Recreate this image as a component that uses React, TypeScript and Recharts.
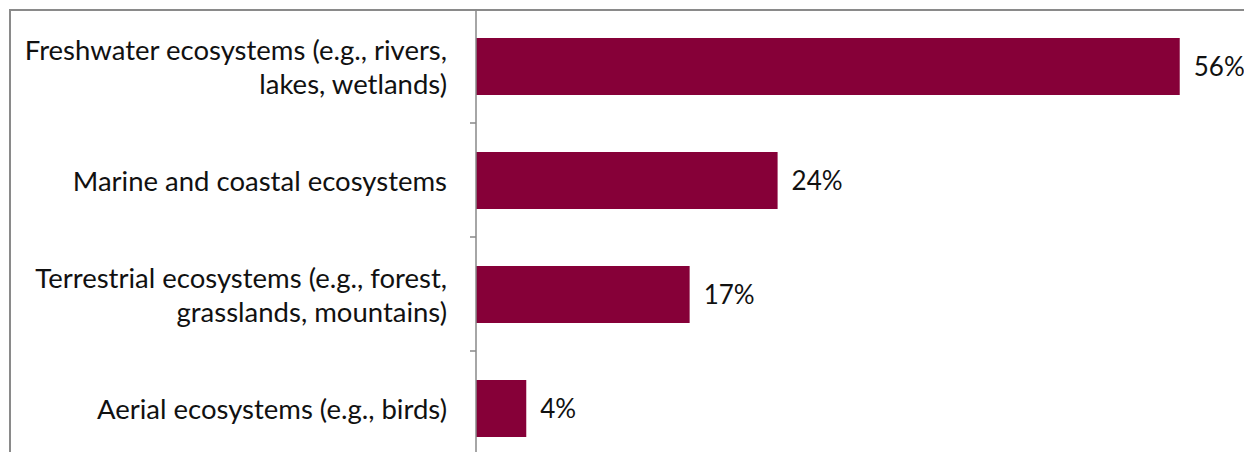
import { BarChart, Bar, XAxis, YAxis, LabelList } from "recharts";

const categories = [
  "Freshwater ecosystems (e.g., rivers,|lakes, wetlands)",
  "Marine and coastal ecosystems",
  "Terrestrial ecosystems (e.g., forest,|grasslands, mountains)",
  "Aerial ecosystems (e.g., birds)",
];
const shares = [56, 24, 17, 4];

const data = categories.map((name, i) => ({ name, value: shares[i] }));

const FONT = "Lato, 'Open Sans', sans-serif";
const BAND = 114;

const CategoryTick = ({ x, y, payload, index }: any) => {
  const lines = String(payload.value).split("|");
  const lineGap = 34;
  const start = y - ((lines.length - 1) * lineGap) / 2;
  return (
    <g>
      {lines.map((line, i) => (
        <text
          key={i}
          x={x - 29}
          y={start + i * lineGap}
          textAnchor="end"
          dominantBaseline="central"
          fontFamily={FONT}
          fontSize={27.5}
          fill="#111"
        >
          {line}
        </text>
      ))}
      {index < categories.length - 1 && (
        <line x1={x - 6} x2={x} y1={y + BAND / 2} y2={y + BAND / 2} stroke="#888" strokeWidth={1.5} />
      )}
    </g>
  );
};

export default function App() {
  return (
    <div style={{ position: "relative", width: 1252, height: 460, overflow: "hidden", margin: -8, background: "#fff" }}>
      <div
        style={{
          position: "absolute",
          left: 9,
          top: 9,
          width: 1400,
          height: 600,
          border: "2px solid #8a8a8a",
        }}
      />
      <div style={{ position: "absolute", left: 0, top: 0 }}>
        <BarChart
          width={1252}
          height={480}
          data={data}
          layout="vertical"
          margin={{ top: 9, right: 22, bottom: 15, left: 0 }}
          barCategoryGap="25%"
        >
          <XAxis type="number" domain={[0, 60]} hide />
          <YAxis
            type="category"
            dataKey="name"
            width={476}
            axisLine={{ stroke: "#888", strokeWidth: 1.5 }}
            tickLine={false}
            tickSize={0}
            tickMargin={0}
            tick={<CategoryTick />}
            interval={0}
          />
          <Bar dataKey="value" fill="#860038" barSize={57} isAnimationActive={false}>
            <LabelList
              dataKey="value"
              position="right"
              offset={14}
              formatter={(v: any) => `${v}%`}
              style={{ fontFamily: FONT, fontSize: 26, fill: "#111" }}
            />
          </Bar>
        </BarChart>
      </div>
    </div>
  );
}
